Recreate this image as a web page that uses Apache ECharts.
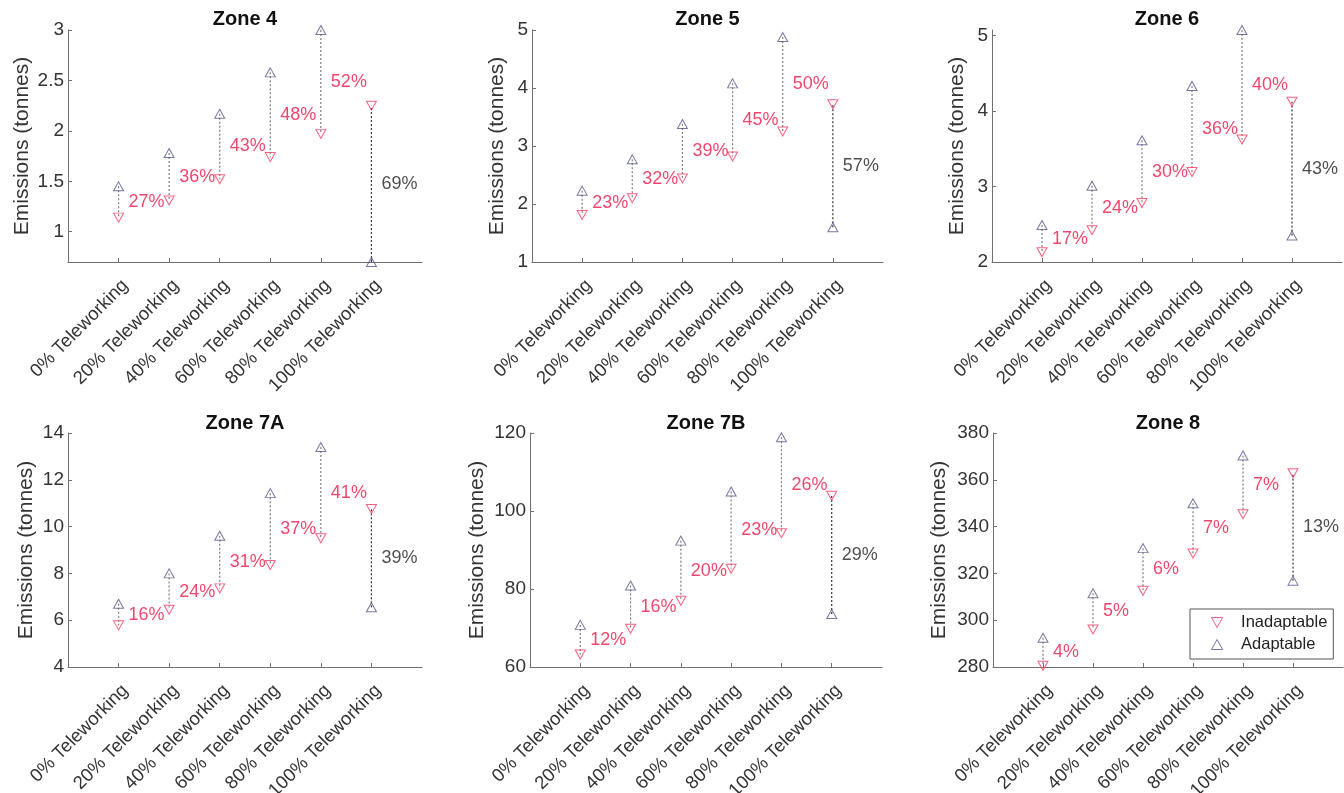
<!DOCTYPE html>
<html>
<head>
<meta charset="utf-8">
<script src="https://cdn.jsdelivr.net/npm/echarts@6/dist/echarts.min.js"></script>
<style>
  html, body { margin: 0; padding: 0; background: #ffffff; }
  #chart { width: 1344px; height: 793px; }
</style>
</head>
<body>
<div id="chart"></div>
<script>
// ---------- data ----------
const categories = ['0% Teleworking', '20% Teleworking', '40% Teleworking', '60% Teleworking', '80% Teleworking', '100% Teleworking'];
const zoneNames = ['Zone 4', 'Zone 5', 'Zone 6', 'Zone 7A', 'Zone 7B', 'Zone 8'];

const inadaptableZone4 = [1.14, 1.31, 1.52, 1.74, 1.97, 2.25];
const adaptableZone4   = [1.45, 1.78, 2.17, 2.58, 3.00, 0.70];
const pctZone4 = ['27%', '36%', '43%', '48%', '52%', '69%'];

const inadaptableZone5 = [1.81, 2.10, 2.44, 2.82, 3.25, 3.72];
const adaptableZone5   = [2.23, 2.77, 3.38, 4.08, 4.88, 1.60];
const pctZone5 = ['23%', '32%', '39%', '45%', '50%', '57%'];

const inadaptableZone6 = [2.13, 2.42, 2.78, 3.19, 3.62, 4.12];
const adaptableZone6   = [2.49, 3.01, 3.61, 4.33, 5.07, 2.35];
const pctZone6 = ['17%', '24%', '30%', '36%', '40%', '43%'];

const inadaptableZone7A = [5.78, 6.45, 7.36, 8.36, 9.50, 10.75];
const adaptableZone7A   = [6.70, 8.00, 9.61, 11.43, 13.40, 6.55];
const pctZone7A = ['16%', '24%', '31%', '37%', '41%', '39%'];

const inadaptableZone7B = [63.2, 69.8, 77.0, 85.2, 94.3, 103.9];
const adaptableZone7B   = [70.8, 80.9, 92.4, 105.0, 118.9, 73.6];
const pctZone7B = ['12%', '16%', '20%', '23%', '26%', '29%'];

const inadaptableZone8 = [280.5, 296.0, 312.6, 328.5, 345.3, 362.8];
const adaptableZone8   = [292.5, 311.5, 330.8, 350.0, 370.4, 316.9];
const pctZone8 = ['4%', '5%', '6%', '7%', '7%', '13%'];

const yTicksZone4 = [1, 1.5, 2, 2.5, 3];
const yTicksZone5 = [1, 2, 3, 4, 5];
const yTicksZone6 = [2, 3, 4, 5];
const yTicksZone7A = [4, 6, 8, 10, 12, 14];
const yTicksZone7B = [60, 80, 100, 120];
const yTicksZone8 = [280, 300, 320, 340, 360, 380];

const yMinZone = [0.7, 1, 2, 4, 60, 280];
const yMaxZone = [3, 5, 5.07, 14, 120, 380];

// ---------- assembly ----------
const inadaptable = [inadaptableZone4, inadaptableZone5, inadaptableZone6, inadaptableZone7A, inadaptableZone7B, inadaptableZone8];
const adaptable = [adaptableZone4, adaptableZone5, adaptableZone6, adaptableZone7A, adaptableZone7B, adaptableZone8];
const pcts = [pctZone4, pctZone5, pctZone6, pctZone7A, pctZone7B, pctZone8];
const yTicks = [yTicksZone4, yTicksZone5, yTicksZone6, yTicksZone7A, yTicksZone7B, yTicksZone8];

const FONT = "'Liberation Sans', Arial, Helvetica, sans-serif";
const RED = '#ec1846';
const RED_MARK = '#ff3860';
const BLUE_MARK = '#55558f';
const AXIS = '#707070';
const TEXT = '#333333';

const grids = [
  { left: 68,  top: 30,  width: 354, height: 232 },
  { left: 532, top: 30,  width: 351, height: 232 },
  { left: 992, top: 30,  width: 350, height: 232 },
  { left: 68,  top: 433, width: 354, height: 234 },
  { left: 530, top: 433, width: 352, height: 234 },
  { left: 993, top: 433, width: 350, height: 234 }
].map(g => Object.assign({ outerBoundsMode: 'none', containLabel: false }, g));
const nameGaps = [35, 24, 24, 31, 42, 43];
const xPos = categories.map((c, k) => k + 1);

const xAxes = [], yAxes = [], series = [], titles = [];
grids.forEach((g, i) => {
  titles.push({
    text: zoneNames[i],
    left: g.left + g.width / 2,
    top: i < 3 ? 9 : 413,
    textAlign: 'center',
    padding: 0,
    textStyle: { fontFamily: FONT, fontSize: 20, fontWeight: 'bold', color: '#111' }
  });
  xAxes.push({
    gridIndex: i, type: 'value', min: 0, max: 7,
    splitLine: { show: false },
    axisLine: { onZero: false, lineStyle: { color: AXIS, width: 1 } },
    axisTick: { customValues: xPos, inside: true, length: 4, lineStyle: { color: AXIS } },
    axisLabel: {
      customValues: xPos, rotate: 45, margin: 14, verticalAlign: 'top',
      fontFamily: FONT, fontSize: 18.5, color: TEXT,
      formatter: v => categories[Math.round(v) - 1] || ''
    }
  });
  yAxes.push({
    gridIndex: i, type: 'value', min: yMinZone[i], max: yMaxZone[i],
    name: 'Emissions (tonnes)', nameLocation: 'middle', nameGap: nameGaps[i],
    nameTextStyle: { fontFamily: FONT, fontSize: 21, color: TEXT },
    splitLine: { show: false },
    axisLine: { show: true, onZero: false, lineStyle: { color: AXIS, width: 1 } },
    axisTick: { show: true, customValues: yTicks[i], inside: true, length: 4, lineStyle: { color: AXIS } },
    axisLabel: { customValues: yTicks[i], margin: 4, fontFamily: FONT, fontSize: 19, color: TEXT }
  });

  const inad = inadaptable[i], adap = adaptable[i];
  const grayLine = [], blackLine = [];
  xPos.forEach((x, k) => {
    const target = k < 5 ? grayLine : blackLine;
    target.push([x, adap[k]], [x, inad[k]], [x, '-']);
  });
  series.push({
    type: 'line', xAxisIndex: i, yAxisIndex: i, data: grayLine, symbol: 'none', clip: false,
    lineStyle: { color: '#7d7d7d', width: 1.2, type: [2, 2] }, silent: true, z: 2
  });
  series.push({
    type: 'line', xAxisIndex: i, yAxisIndex: i, data: blackLine, symbol: 'none', clip: false,
    lineStyle: { color: '#333333', width: 1.2, type: [2, 2] }, silent: true, z: 2
  });
  series.push({
    name: 'Inadaptable', type: 'scatter', xAxisIndex: i, yAxisIndex: i, clip: false,
    data: xPos.map((x, k) => [x, inad[k]]),
    symbol: 'triangle', symbolRotate: 180, symbolSize: [10, 9],
    itemStyle: { color: 'rgba(255,255,255,0)', borderColor: RED_MARK, borderWidth: 1 }, z: 3
  });
  series.push({
    name: 'Adaptable', type: 'scatter', xAxisIndex: i, yAxisIndex: i, clip: false,
    data: xPos.map((x, k) => [x, adap[k]]),
    symbol: 'triangle', symbolSize: [10, 9],
    itemStyle: { color: 'rgba(255,255,255,0)', borderColor: BLUE_MARK, borderWidth: 1 }, z: 3
  });
  series.push({
    name: 'pct', type: 'scatter', xAxisIndex: i, yAxisIndex: i, clip: false, silent: true,
    data: xPos.map((x, k) => {
      const d = [x, (inad[k] + adap[k]) / 2];
      return k < 5 ? { value: d } : { value: d, label: { color: '#222222' } };
    }),
    symbolSize: 0,
    label: {
      show: true, position: 'right', distance: 10,
      fontFamily: FONT, fontSize: 18,
      formatter: p => pcts[i][p.dataIndex],
      color: RED
    },
    labelLayout: { hideOverlap: false },
    z: 4
  });
});

const option = {
  backgroundColor: '#ffffff',
  animation: false,
  title: titles,
  grid: grids,
  xAxis: xAxes,
  yAxis: yAxes,
  legend: {
    data: [
      { name: 'Inadaptable', icon: 'path://M0,0L10,0L5,9Z' },
      { name: 'Adaptable', icon: 'path://M5,0L10,9L0,9Z' }
    ],
    orient: 'vertical', left: 1190, top: 609,
    padding: [5, 6, 6, 21], itemGap: 5, itemWidth: 38, itemHeight: 10,
    backgroundColor: '#ffffff', borderColor: '#555555', borderWidth: 1, borderRadius: 0,
    itemStyle: { borderWidth: 1 },
    textStyle: { fontFamily: FONT, fontSize: 16.5, color: '#222' },
    selectedMode: false
  },
  series: series
};

const chart = echarts.init(document.getElementById('chart'), null, { renderer: 'canvas' });
chart.setOption(option);
</script>
</body>
</html>
